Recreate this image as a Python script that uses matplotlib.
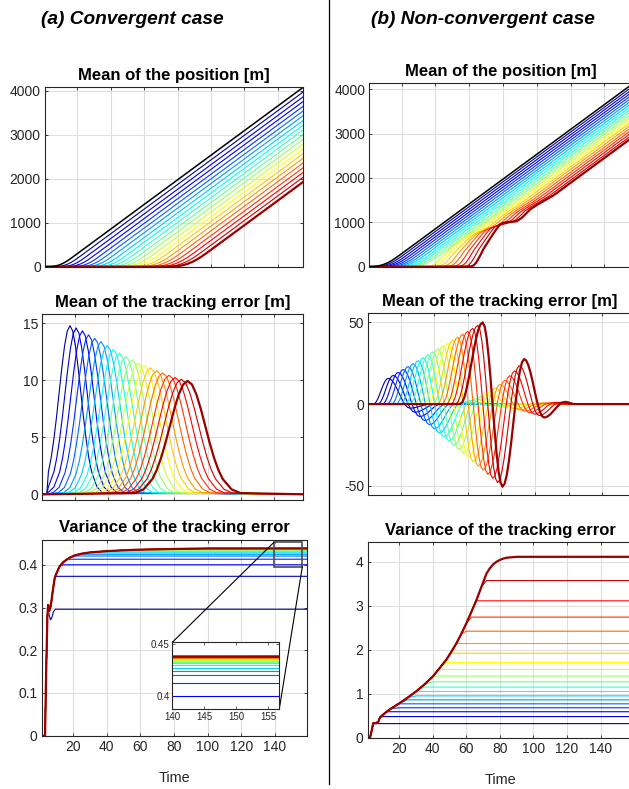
import numpy as np
import matplotlib
matplotlib.use('Agg')
import matplotlib.pyplot as plt
from matplotlib.patches import Rectangle, ConnectionPatch

plt.rcParams['font.family'] = ['Liberation Sans', 'DejaVu Sans']
plt.rcParams['axes.unicode_minus'] = False

# ---------------- data ----------------
# 20 followers coloured like MATLAB jet(20), the leader is black
JET20 = [(0, 0, 0.6), (0, 0, 0.8), (0, 0, 1), (0, 0.2, 1), (0, 0.4, 1),
         (0, 0.6, 1), (0, 0.8, 1), (0, 1, 1), (0.2, 1, 0.8), (0.4, 1, 0.6),
         (0.6, 1, 0.4), (0.8, 1, 0.2), (1, 1, 0), (1, 0.8, 0), (1, 0.6, 0),
         (1, 0.4, 0), (1, 0.2, 0), (1, 0, 0), (0.8, 0, 0), (0.6, 0, 0)]

SPEED = 28.0  # cruising speed [m/s], slope of the position lines
X_TICKS = [20, 40, 60, 80, 100, 120, 140]

# speed-up knee of a position curve (u: s from the zero crossing of the line)
KNEE_U = [-10, -8, -6, -4, -2, 0, 2, 4, 6, 8, 10]
KNEE_G = [0, 0.02, 0.14, 0.46, 1.02, 1.88, 3.02, 4.46, 6.14, 8.02, 10.0]

# (a) position: time where each cruising line crosses 0, knee width (leader first)
POS_A_CROSS = [9.5, 13.3, 17.2, 21.0, 24.9, 28.7, 32.5, 36.4, 40.2, 44.1, 47.9,
               51.7, 55.6, 59.4, 63.3, 67.1, 70.9, 74.8, 78.6, 82.5, 86.3]
POS_A_WIDTH = [8, 8.3, 8.5, 8.8, 9, 9.3, 9.5, 9.8, 10, 10.3, 10.5,
               10.8, 11, 11.3, 11.5, 11.8, 12, 12.3, 12.5, 12.8, 13]

# (b) position
POS_B_CROSS = [9.5, 11.65, 13.8, 15.95, 18.1, 20.25, 22.4, 24.55, 26.7, 28.85, 31.0,
               33.15, 35.3, 37.45, 39.6, 41.75, 43.9, 46.05, 48.2, 50.35, 52.5]
POS_B_LAST_T = [30, 45, 52, 56, 60.7, 62.5, 64, 66.3, 68.3, 70.8, 73.3, 75.8, 78.2,
                80.2, 82.2, 85.1, 88.1, 91.1, 93.6, 96, 100, 103.9, 110]
POS_B_LAST_X = [0, 0, 0, 0, 0, 25, 85, 235, 389, 540, 688, 830, 950,
                985, 1003, 1012, 1025, 1100, 1195, 1288, 1390, 1475, 1610]
# followers 12..20 take the same detour as the last one, smaller and earlier
POS_B_DETOUR_SCALE = [0.21, 0.28, 0.36, 0.45, 0.55, 0.66, 0.76, 0.88, 1.0]
POS_B_DETOUR_SHIFT = [-23.2, -20.3, -17.4, -14.5, -11.6, -8.7, -5.8, -2.9, 0]

# (a) tracking error: one pulse per follower
TRK_A_PEAK_T = [17.0, 20.7, 24.5, 28.2, 31.9, 35.7, 39.4, 43.1, 46.8, 50.6,
                54.3, 58.0, 61.8, 65.5, 69.2, 72.9, 76.7, 80.4, 84.1, 87.9]
TRK_A_PEAK_H = [14.8, 14.6, 14.35, 14.0, 13.7, 13.4, 13.05, 12.7, 12.4, 12.1,
                11.8, 11.5, 11.3, 11.1, 10.85, 10.65, 10.45, 10.25, 10.1, 9.95]
TRK_A_WIDTH = [6.5, 6.7, 6.9, 7.1, 7.3, 7.5, 7.7, 7.9, 8.1, 8.3,
               8.5, 8.7, 8.9, 9.1, 9.3, 9.6, 9.8, 10.0, 10.3, 10.6]
TRK_A_ONSET = 3.0
PULSE_U = [-3, -2.5, -2, -1.75, -1.5, -1.25, -1, -0.75, -0.5, -0.25, 0,
           0.25, 0.5, 0.75, 1, 1.25, 1.5, 1.75, 2, 2.5, 3]
PULSE_S = [0.011, 0.044, 0.135, 0.216, 0.325, 0.458, 0.607, 0.755, 0.882, 0.969, 1,
           0.969, 0.882, 0.755, 0.607, 0.458, 0.325, 0.216, 0.135, 0.044, 0.011]

# (b) tracking error: successive extremes of each follower
TRK_B_ONSET = [3.7, 6.4, 9.1, 11.9, 14.6, 17.3, 20.0, 22.7, 25.5, 28.2,
               30.9, 33.6, 36.3, 39.1, 41.8, 44.5, 47.2, 49.9, 52.7, 55.4]
TRK_B_P1_T = [12.6, 15.6, 18.5, 21.5, 24.4, 27.4, 30.4, 33.3, 36.3, 39.2,
              42.2, 45.2, 48.1, 51.1, 54.0, 57.0, 60.0, 62.9, 65.9, 68.8]
TRK_B_P1_V = [15.7, 17.5, 19.3, 21.1, 22.9, 24.7, 26.5, 28.3, 30.1, 31.9,
              33.7, 35.5, 37.3, 39.1, 40.9, 42.7, 44.5, 46.3, 48.1, 49.9]
TRK_B_N1_T = [25.5, 28.4, 31.3, 34.2, 37.1, 40.0, 42.9, 45.8, 48.7, 51.6,
              54.5, 57.4, 60.3, 63.2, 66.1, 69.0, 71.9, 74.8, 77.7, 80.6]
TRK_B_N1_V = [-2.5, -5.0, -7.6, -10.1, -12.6, -15.1, -17.7, -20.2, -22.7, -25.2,
              -27.8, -30.3, -32.8, -35.3, -37.9, -40.4, -42.9, -45.4, -48.0, -50.5]
TRK_B_P2_T = [38.4, 41.3, 44.2, 47.1, 50.0, 52.9, 55.8, 58.7, 61.6, 64.5,
              67.4, 70.3, 73.2, 76.1, 79.0, 81.9, 84.8, 87.7, 90.6, 93.5]
TRK_B_P2_V = [0.1, 0.1, 0.1, 0.1, 0.2, 0.4, 0.8, 1.4, 2.2, 3.2,
              4.5, 6.0, 7.8, 9.8, 12.0, 14.5, 17.3, 20.3, 23.5, 27.5]
TRK_B_N2_T = [50.2, 53.1, 56.0, 58.9, 61.8, 64.7, 67.6, 70.5, 73.4, 76.3,
              79.2, 82.1, 85.0, 87.9, 90.8, 93.7, 96.6, 99.5, 102.4, 105.3]
TRK_B_N2_V = [0, 0, 0, 0, -0.1, -0.1, -0.2, -0.4, -0.7, -1.0,
              -1.4, -1.8, -2.3, -2.9, -3.6, -4.3, -5.2, -6.1, -7.0, -8.2]
TRK_B_P3_T = [62.7, 65.6, 68.5, 71.4, 74.3, 77.2, 80.1, 83.0, 85.9, 88.8,
              91.7, 94.6, 97.5, 100.4, 103.3, 106.2, 109.1, 112.0, 114.9, 117.8]
TRK_B_P3_V = [0, 0, 0, 0, 0, 0, 0, 0.1, 0.1, 0.2,
              0.2, 0.3, 0.4, 0.5, 0.6, 0.7, 0.8, 1.0, 1.1, 1.3]
SWING_F = [0, 0.1, 0.2, 0.3, 0.4, 0.5, 0.6, 0.7, 0.8, 0.9, 1.0]
SWING_S = [0, 0.024, 0.095, 0.206, 0.345, 0.5, 0.655, 0.794, 0.905, 0.976, 1.0]

# (a) variance: common rise, plateau of each follower, first one has a dip
VAR_A_ENV_T = [1.2, 3.2, 3.7, 4.2, 4.6, 5.0, 5.6, 6.3, 7.0, 8.0, 9.0, 10, 11, 12,
               14, 16, 18, 21, 25, 30, 40, 50, 60, 80, 100, 159]
VAR_A_ENV_V = [0, 0, 0.12, 0.21, 0.28, 0.306, 0.292, 0.298, 0.315, 0.345, 0.37, 0.38,
               0.389, 0.397, 0.406, 0.412, 0.417, 0.422, 0.426, 0.429, 0.432, 0.434,
               0.4355, 0.437, 0.4383, 0.4385]
VAR_A_LEVEL = [0.296, 0.373, 0.400, 0.413, 0.4205, 0.4245, 0.4278, 0.4302, 0.432, 0.4334,
               0.4345, 0.4353, 0.436, 0.4366, 0.4371, 0.4375, 0.4378, 0.4381, 0.4383, 0.4385]
VAR_A_FIRST_T = [1.2, 3.2, 3.7, 4.2, 4.6, 5.0, 5.6, 6.5, 7.3, 8.2, 9.3, 159]
VAR_A_FIRST_V = [0, 0, 0.12, 0.21, 0.28, 0.30, 0.283, 0.271, 0.277, 0.29, 0.296, 0.296]

# (b) variance
VAR_B_ENV_T = [1.2, 2.6, 3.5, 4.5, 6.0, 7.5, 8.5, 10.5, 12.5, 15, 20, 25, 30, 35, 40,
               44, 48, 51, 54, 57, 60, 63, 66, 69, 72, 74, 76, 78, 80, 82, 84, 90, 159]
VAR_B_ENV_V = [0, 0, 0.15, 0.33, 0.33, 0.36, 0.46, 0.53, 0.59, 0.66, 0.78, 0.91, 1.05,
               1.21, 1.39, 1.58, 1.77, 1.95, 2.14, 2.36, 2.6, 2.86, 3.13, 3.43, 3.73,
               3.85, 3.94, 4.0, 4.04, 4.07, 4.09, 4.11, 4.11]
VAR_B_LEVEL = [0.32, 0.48, 0.59, 0.68, 0.77, 0.86, 0.95, 1.05, 1.15, 1.27,
               1.40, 1.55, 1.71, 1.92, 2.14, 2.42, 2.74, 3.11, 3.57, 4.11]

# zoom window of the inset in (a)
ZOOM_BOX = [139.5, 156.4, 0.3956, 0.4526]


# ---------------- curve builders ----------------
def knee(cross, width, t0, t1):
    k = width / 10.0
    t = [t0] + [cross + k * u for u in KNEE_U] + [t1]
    x = [0.0] + [SPEED * k * g for g in KNEE_G] + [SPEED * (t1 - cross)]
    return t, x


def detour(cross, scale, shift, t0, t1):
    T = np.array(POS_B_LAST_T)
    dev = np.array(POS_B_LAST_X) - SPEED * (T - POS_B_CROSS[-1])
    t = T + shift
    x = np.maximum(0, SPEED * (t - cross) + scale * dev)
    return ([t0] + list(t) + [t1]), ([0.0] + list(x) + [SPEED * (t1 - cross)])


def pulse(peak, height, width, t0, t1):
    t = peak + width * np.array(PULSE_U)
    y = height * np.array(PULSE_S)
    keep = t > TRK_A_ONSET
    return ([t0, TRK_A_ONSET] + list(t[keep]) + [t1]), ([0, 0] + list(y[keep]) + [0])


def swings(points, t0, t1):
    t, y = [t0], [0.0]
    for k in range(len(points) - 1):
        ta, va = points[k]
        tb, vb = points[k + 1]
        for f, s in zip(SWING_F, SWING_S):
            if k > 0 and f == 0:
                continue
            t.append(ta + f * (tb - ta))
            y.append(va + s * (vb - va))
    t.append(t1)
    y.append(0.0)
    return t, y


# ---------------- figure ----------------
W, H = 629, 789
fig = plt.figure(figsize=(W / 100, H / 100), dpi=100)


def px_axes(left, right, top, bottom):
    return fig.add_axes([left / W, 1 - bottom / H, (right - left) / W, (bottom - top) / H])


def style(ax, xlim, ylim, yticks, ylabels=None, xlabels=False):
    ax.set_xlim(xlim)
    ax.set_ylim(ylim)
    ax.set_xticks(X_TICKS)
    ax.set_yticks(yticks)
    if ylabels is not None:
        ax.set_yticklabels(ylabels)
    if not xlabels:
        ax.set_xticklabels([])
    ax.grid(True, color='#dedede', lw=0.8)
    ax.set_axisbelow(True)
    ax.tick_params(direction='in', length=2.5, width=0.6, top=True, right=True,
                   labelsize=10, colors='0.15', pad=3)
    for s in ax.spines.values():
        s.set_color('0.15')
        s.set_linewidth(0.8)


def lw(i):
    return 1.6 if i == 19 else 0.8


TITLE = dict(fontsize=12, fontweight='bold', pad=5.5)

# (a) position
ax = px_axes(45, 303, 87.3, 267.3)
for i in range(20):
    t, x = knee(POS_A_CROSS[i + 1], POS_A_WIDTH[i + 1], 0.7, 155)
    ax.plot(t, x, color=JET20[i], lw=lw(i))
t, x = knee(POS_A_CROSS[0], POS_A_WIDTH[0], 0.7, 155)
ax.plot(t, x, color='black', lw=1.1)
style(ax, (0.7, 155), (-15, 4077), [0, 1000, 2000, 3000, 4000])
ax.set_title('Mean of the position [m]', **TITLE)

# (b) position
ax = px_axes(369.3, 633, 83.3, 267.3)
for i in range(20):
    if i < 11:
        t, x = knee(POS_B_CROSS[i + 1], 10, 0.8, 157)
    else:
        j = i - 11
        t, x = detour(POS_B_CROSS[i + 1], POS_B_DETOUR_SCALE[j], POS_B_DETOUR_SHIFT[j], 0.8, 157)
    ax.plot(t, x, color=JET20[i], lw=lw(i))
t, x = knee(POS_B_CROSS[0], 10, 0.8, 157)
ax.plot(t, x, color='black', lw=1.1)
style(ax, (0.8, 157), (-15, 4135), [0, 1000, 2000, 3000, 4000])
ax.set_title('Mean of the position [m]', **TITLE)

# (a) tracking error
ax = px_axes(42.3, 303.3, 314.3, 500)
for i in range(20):
    t, y = pulse(TRK_A_PEAK_T[i], TRK_A_PEAK_H[i], TRK_A_WIDTH[i], 0.3, 157.7)
    ax.plot(t, y, color=JET20[i], lw=lw(i))
style(ax, (0.3, 157.7), (-0.5, 15.8), [0, 5, 10, 15])
ax.set_title('Mean of the tracking error [m]', **TITLE)

# (b) tracking error
ax = px_axes(368.3, 632, 313.3, 495)
for i in range(20):
    pts = [(TRK_B_ONSET[i], 0), (TRK_B_P1_T[i], TRK_B_P1_V[i]),
           (TRK_B_N1_T[i], TRK_B_N1_V[i]), (TRK_B_P2_T[i], TRK_B_P2_V[i]),
           (TRK_B_N2_T[i], TRK_B_N2_V[i]), (TRK_B_P3_T[i], TRK_B_P3_V[i]),
           (TRK_B_P3_T[i] + 6, 0)]
    t, y = swings(pts, 0.7, 157.7)
    ax.plot(t, y, color=JET20[i], lw=lw(i))
style(ax, (0.7, 157.7), (-55.6, 55.5), [-50, 0, 50])
ax.set_title('Mean of the tracking error [m]', **TITLE)

# (a) variance with inset
ax = px_axes(41.7, 306.7, 540, 735.7)
ins = fig.add_axes([172.3 / W, 1 - 709 / H, 107 / W, 66.7 / H], zorder=5)
for i in range(20):
    if i == 0:
        t, v = VAR_A_FIRST_T, VAR_A_FIRST_V
    else:
        t, v = VAR_A_ENV_T, np.minimum(VAR_A_ENV_V, VAR_A_LEVEL[i])
    ax.plot(t, v, color=JET20[i], lw=lw(i))
    ins.plot(t, v, color=JET20[i], lw=lw(i))
style(ax, (1.2, 159), (0, 0.458), [0, 0.1, 0.2, 0.3, 0.4],
      ['0', '0.1', '0.2', '0.3', '0.4'], xlabels=True)
ax.set_title('Variance of the tracking error', **TITLE)
ax.set_xlabel('Time', fontsize=10.4, labelpad=12, color='0.15')
x0, x1, y0, y1 = ZOOM_BOX
ax.add_patch(Rectangle((x0, y0), x1 - x0, y1 - y0, fill=False, edgecolor='0.3', lw=1.2, zorder=4))
ins.set_xlim(140, 156.7)
ins.set_ylim(0.388, 0.452)
ins.set_xticks([140, 145, 150, 155])
ins.set_yticks([0.4, 0.45])
ins.set_yticklabels(['0.4', '0.45'])
ins.tick_params(direction='in', length=2, width=0.5, top=True, right=True,
                labelsize=7, colors='0.15', pad=2)
for s in ins.spines.values():
    s.set_color('0.15')
    s.set_linewidth(0.8)
for xa, xb in [((x0, y1), (0, 1)), ((x1, y0), (1, 0))]:
    con = ConnectionPatch(xyA=xa, coordsA=ax.transData, xyB=xb, coordsB=ins.transAxes,
                          color='black', lw=0.8)
    fig.add_artist(con)

# (b) variance
ax = px_axes(367.7, 632.5, 542.3, 737.7)
for i in range(20):
    ax.plot(VAR_B_ENV_T, np.minimum(VAR_B_ENV_V, VAR_B_LEVEL[i]), color=JET20[i], lw=lw(i))
style(ax, (1.2, 159), (0, 4.44), [0, 1, 2, 3, 4], xlabels=True)
ax.set_title('Variance of the tracking error', **TITLE)
ax.set_xlabel('Time', fontsize=10.4, labelpad=12, color='0.15')

# column headings and separator
fig.text(132.5 / W, 1 - 20 / H, '(a) Convergent case', ha='center', va='center',
         fontsize=13.8, fontweight='bold', fontstyle='italic')
fig.text(482.5 / W, 1 - 20 / H, '(b) Non-convergent case', ha='center', va='center',
         fontsize=13.8, fontweight='bold', fontstyle='italic')
fig.add_artist(plt.Line2D([329 / W, 329 / W], [1, 1 - 784 / H], color='black', lw=0.9))

fig.savefig('out.png', dpi=100)
